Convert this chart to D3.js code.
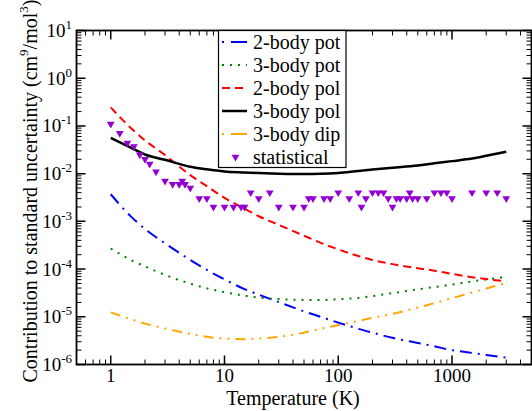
<!DOCTYPE html>
<head>
<meta charset="utf-8">
<script src="https://d3js.org/d3.v7.min.js"></script>
<style>
  body { margin:0; background:#fff; }
  text { font-family: "Liberation Serif", "Times New Roman", serif; fill:#000; }
</style>
</head>
<body>
<script>
// temperatures (K) shared by the smooth curves
var temps = [1, 1.5, 2, 3, 5, 7, 10, 15, 20, 30, 50, 70, 100, 150, 200, 300, 500, 700, 1000, 1500, 2000, 3000];

var pot2 = [3.7e-3, 1.27e-3, 6.95e-4, 3.46e-4, 1.56e-4, 9.6e-5, 6.1e-5, 3.8e-5, 2.92e-5, 2.03e-5, 1.3e-5, 1.0e-5,
            7.55e-6, 5.6e-6, 4.65e-6, 3.62e-6, 2.83e-6, 2.41e-6, 2.0e-6, 1.75e-6, 1.59e-6, 1.4e-6];
var pot3 = [2.7e-4, 1.55e-4, 1.14e-4, 7.55e-5, 4.95e-5, 3.94e-5, 3.29e-5, 2.77e-5, 2.52e-5, 2.35e-5, 2.26e-5, 2.25e-5,
            2.34e-5, 2.49e-5, 2.72e-5, 3.13e-5, 3.76e-5, 4.2e-5, 4.73e-5, 5.5e-5, 6.05e-5, 6.9e-5];
var pol2 = [0.245, 0.0906, 0.0498, 0.0245, 0.0093, 0.00547, 0.0031, 0.00185, 0.00128, 8.43e-4, 5.0e-4, 3.55e-4,
            2.59e-4, 1.88e-4, 1.55e-4, 1.27e-4, 1.04e-4, 9.25e-5, 7.94e-5, 6.75e-5, 6.17e-5, 5.5e-5];
var pol3 = [0.056, 0.035, 0.0252, 0.0195, 0.014, 0.0123, 0.0111, 0.0106, 0.0103, 0.0100, 0.0098, 0.0099,
            0.0103, 0.0114, 0.0122, 0.0133, 0.0148, 0.0165, 0.0183, 0.0207, 0.0236, 0.0288];
var dip3 = [1.24e-5, 8.9e-6, 7.2e-6, 5.68e-6, 4.37e-6, 3.8e-6, 3.5e-6, 3.4e-6, 3.5e-6, 3.8e-6, 4.65e-6, 5.6e-6,
            6.7e-6, 8.2e-6, 9.5e-6, 1.15e-5, 1.56e-5, 1.93e-5, 2.45e-5, 3.22e-5, 3.9e-5, 5.1e-5];

// statistical uncertainty points
var statT = [1, 1.2, 1.4, 1.6, 1.8, 2, 2.2, 2.5, 3, 3.5, 4, 4.25, 4.5, 5, 6, 7, 8, 10, 12, 14, 15, 17, 20, 25, 30,
             40, 50, 55, 60, 75, 85, 100, 125, 150, 160, 175, 200, 225, 250, 275, 300, 325, 350, 400, 425, 450,
             500, 600, 700, 800, 900, 1000, 1500, 2000, 2500, 3000];
var statV = [0.11, 0.07, 0.044, 0.037, 0.025, 0.02, 0.016, 0.011, 0.007, 0.006, 0.006, 0.007, 0.006, 0.005, 0.003,
             0.003, 0.002, 0.002, 0.002, 0.002, 0.002, 0.004, 0.003, 0.004, 0.002, 0.002, 0.002, 0.003, 0.003,
             0.003, 0.003, 0.004, 0.003, 0.004, 0.002, 0.003, 0.004, 0.004, 0.004, 0.003, 0.002, 0.003, 0.003,
             0.003, 0.004, 0.003, 0.003, 0.003, 0.004, 0.004, 0.004, 0.003, 0.004, 0.004, 0.004, 0.003];

var seriesNames = ["2-body pot", "3-body pot", "2-body pol", "3-body pol", "3-body dip", "statistical"];
var xTicks = [1, 10, 100, 1000];
var yExps = [-6, -5, -4, -3, -2, -1, 0, 1];

var width = 532, height = 411;
var margin = {top: 30.5, right: 0.5, bottom: 46.5, left: 76.5};
var iw = width - margin.left - margin.right;
var ih = height - margin.top - margin.bottom;

var series = [
  {name: seriesNames[0], vals: pot2, color: "#0000ff", dash: "12,6,2,6", w: 2},
  {name: seriesNames[1], vals: pot3, color: "#008000", dash: "2,6", w: 2},
  {name: seriesNames[2], vals: pol2, color: "#ff0000", dash: "8,5", w: 2},
  {name: seriesNames[3], vals: pol3, color: "#000000", dash: null, w: 2.5},
  {name: seriesNames[4], vals: dip3, color: "#ffa500", dash: "10,6,2,6,2,6", w: 2}
];

var svg = d3.select("body").append("svg").attr("width", width).attr("height", height);
var g = svg.append("g").attr("transform", `translate(${margin.left},${margin.top})`);

var x = d3.scaleLog().domain([0.5, 5000]).range([0, iw]);
var y = d3.scaleLog().domain([1e-6, 10]).range([ih, 0]);

// minor tick positions
var xMinor = [], yMinor = [];
[-1, 0, 1, 2, 3].forEach(function(e) {
  for (var k = 2; k <= 9; k++) { var v = k * Math.pow(10, e); if (v > 0.5 && v < 5000) xMinor.push(v); }
});
[-6, -5, -4, -3, -2, -1, 0].forEach(function(e) {
  for (var k = 2; k <= 9; k++) yMinor.push(k * Math.pow(10, e));
});

var ticks = g.append("g").attr("stroke", "#000");
// bottom and top
ticks.selectAll(".xmaj").data(xTicks).enter().append("path")
  .attr("d", d => `M${x(d)},${ih}v-9M${x(d)},0v9`).attr("stroke-width", 1.5);
ticks.selectAll(".xmin").data(xMinor).enter().append("path")
  .attr("d", d => `M${x(d)},${ih}v-5M${x(d)},0v5`).attr("stroke-width", 1);
// left and right
ticks.selectAll(".ymaj").data(yExps).enter().append("path")
  .attr("d", d => `M0,${y(Math.pow(10, d))}h9M${iw},${y(Math.pow(10, d))}h-9`).attr("stroke-width", 1.5);
ticks.selectAll(".ymin").data(yMinor).enter().append("path")
  .attr("d", d => `M0,${y(d)}h5M${iw},${y(d)}h-5`).attr("stroke-width", 1);

// curves
var line = d3.line().x(d => x(d[0])).y(d => y(d[1])).curve(d3.curveMonotoneX);
series.forEach(function(s) {
  g.append("path")
    .datum(temps.map((t, i) => [t, s.vals[i]]))
    .attr("d", line)
    .attr("fill", "none")
    .attr("stroke", s.color)
    .attr("stroke-width", s.w)
    .attr("stroke-dasharray", s.dash);
});

// statistical points
var tri = d3.symbol().type(d3.symbolTriangle).size(26);
g.selectAll(".stat").data(statT.map((t, i) => [t, statV[i]])).enter().append("path")
  .attr("d", tri)
  .attr("transform", d => `translate(${x(d[0])},${y(d[1])}) rotate(180)`)
  .attr("fill", "#9400d3");

// frame
g.append("rect").attr("width", iw).attr("height", ih)
  .attr("fill", "none").attr("stroke", "#000").attr("stroke-width", 1.8);

// x labels
g.selectAll(".xl").data(xTicks).enter().append("text")
  .attr("x", d => x(d)).attr("y", ih + 17.5)
  .attr("text-anchor", "middle").attr("font-size", 19)
  .text(d => d);

// y labels 10^n
var yl = g.selectAll(".yl").data(yExps).enter().append("text")
  .attr("x", -4.5).attr("y", d => y(Math.pow(10, d)) + 6.5)
  .attr("text-anchor", "end").attr("font-size", 19);
yl.append("tspan").text("10");
yl.append("tspan").attr("dy", -8).attr("font-size", 13).text(d => d);

// axis titles
svg.append("text").attr("x", margin.left + x(40)).attr("y", 404.5)
  .attr("text-anchor", "middle").attr("font-size", 20).text("Temperature (K)");
var yt = svg.append("text").attr("transform", "translate(37,191) rotate(-90)")
  .attr("text-anchor", "middle").attr("font-size", 20);
yt.append("tspan").text("Contribution to standard uncertainty (cm");
yt.append("tspan").attr("dy", -9).attr("font-size", 13).text("9");
yt.append("tspan").attr("dy", 9).text("/mol");
yt.append("tspan").attr("dy", -9).attr("font-size", 13).text("3");
yt.append("tspan").attr("dy", 9).text(")");

// legend
var lg = svg.append("g");
lg.append("rect").attr("x", 218.5).attr("y", 30.5).attr("width", 127.5).attr("height", 137)
  .attr("fill", "#fff").attr("stroke", "#000").attr("stroke-width", 1.2);
seriesNames.forEach(function(n, i) {
  var cy = 42 + i * 23;
  if (i < series.length) {
    var s = series[i];
    lg.append("line").attr("x1", 222).attr("x2", 247).attr("y1", cy).attr("y2", cy)
      .attr("stroke", s.color).attr("stroke-width", s.w)
      .attr("stroke-dasharray", i === 0 || i === 4 ? "2,7,16" : s.dash);
  } else {
    lg.append("path").attr("d", tri).attr("transform", `translate(235.5,${cy}) rotate(180)`)
      .attr("fill", "#9400d3");
  }
  lg.append("text").attr("x", 253).attr("y", cy + 6.5).attr("font-size", 20).text(n);
});
</script>
</body>
